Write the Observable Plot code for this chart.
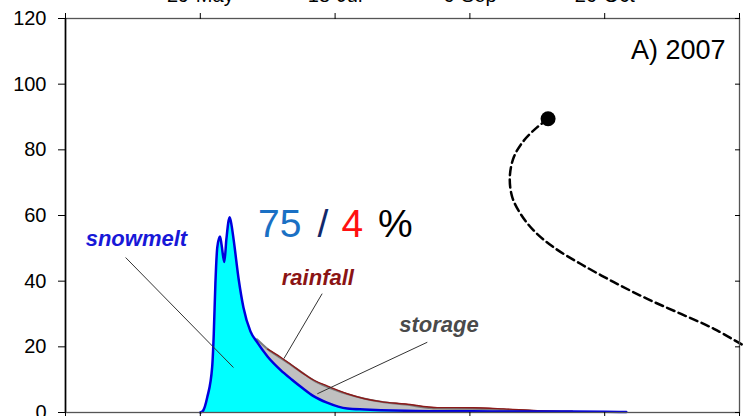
<!DOCTYPE html>
<html><head><meta charset="utf-8">
<script src="https://cdn.jsdelivr.net/npm/d3@7"></script>
<script src="https://cdn.jsdelivr.net/npm/@observablehq/plot@0.6"></script>
<style>
html,body{margin:0;padding:0;overflow:hidden;background:#fff;}
#chart svg{display:block;}
</style></head><body><div id="chart"></div>
<script>
// Day of year (2007)
const days      = [149, 150, 151.6, 153.4, 154, 154.6, 155.3, 156.3, 156.9, 157.9, 158.7, 159.9, 160.6, 161.4, 163.3, 165, 167.6, 170, 174, 178.7, 183, 187, 191, 196, 203.5, 210, 216, 225, 237, 250, 261.5, 274, 287, 299, 307];
const snowmelt  = [0, 0.5, 4.7, 13.8, 24, 39.3, 50.3, 53.6, 51, 45.8, 53, 59.5, 57, 52.4, 40.2, 32, 24.7, 21.5, 17, 13, 10, 7.4, 5, 3, 1.2, 0.9, 0.7, 0.5, 0.4, 0.35, 0.3, 0.3, 0.3, 0.25, 0.15];
const storage   = [0, 0, 0, 0, 0, 0, 0, 0, 0, 0, 0, 0, 0, 0, 0, 0, 0, 0.8, 2.3, 3.6, 4.3, 4.6, 4.8, 4.8, 4.4, 3.3, 2.6, 1.9, 0.8, 0.8, 0.55, 0.15, 0, 0, 0];
const rainfall  = [0, 0, 0, 0, 0, 0, 0, 0, 0, 0, 0, 0, 0, 0, 0, 0, 0, 0, 0, 0.3, 0.1, 0, 0.1, 0.3, 0.1, 0, 0, 0.2, 0.3, 0.3, 0.25, 0.1, 0, 0, 0];
const components = ["snowmelt", "storage", "rainfall"];

const tickDays   = [149, 199, 249, 299];
const tickLabels = ["29-May", "18-Jul", "6-Sep", "26-Oct"];
const frameDays  = [99, 349];
const yTicks     = [0, 20, 40, 60, 80, 100, 120];

// dashed curve
const curveDay   = [278.0, 274.0, 269.0, 265.3, 263.8, 264.7, 267.8, 272.7, 280.1, 290.0, 302.4, 314.8, 327.1, 339.5, 350.5];
const curveValue = [89.45, 86.9, 82.8, 77.8, 71.7, 65.6, 60.5, 55.4, 50.3, 45.3, 39.7, 34.6, 30.1, 25.5, 20.4];
const startDay = 278.0, startValue = 89.45;

// annotations
const labelText  = ["snowmelt", "rainfall", "storage"];
const labelDay   = [125.3, 192.6, 237.5];
const labelValue = [50.6, 38.7, 24.5];
const labelColor = ["#1818d8", "#8b1414", "#4a4a4a"];
const leaderDay1 = [121.3, 194.2, 233.2];
const leaderVal1 = [47.2, 36.2, 21.4];
const leaderDay2 = [161.3, 180.0, 192.4];
const leaderVal2 = [13.7, 16.4, 5.7];

const ratioParts  = ["75", "/", "4", "%"];
const ratioColors = ["#1a70c4", "#12286a", "#ff1010", "#000000"];
const ratioGaps   = [0, 16, 13.4, 14.6];
const ratioDay = 170.4, ratioValue = 53.3;
const panelTitle = "A) 2007";

const rows = days.flatMap((d, i) => [
  {day: d, comp: "snowmelt", v: snowmelt[i]},
  {day: d, comp: "storage", v: storage[i]},
  {day: d, comp: "rainfall", v: rainfall[i]}
]);
const idx = days.map((d, i) => i);
const idxL = labelText.map((d, i) => i);
const idxC = curveDay.map((d, i) => i);

const fmt = d => tickLabels[tickDays.indexOf(d)];
const rainDefined = i => rainfall[i] > 0 || rainfall[i - 1] > 0 || rainfall[i + 1] > 0;

const chart = Plot.plot({
  width: 743, height: 416,
  marginLeft: 65, marginRight: 4, marginTop: 18, marginBottom: 4,
  style: {fontFamily: "'Liberation Sans', Arial, sans-serif", color: "#000", background: "#fff"},
  x: {domain: [99, 349]},
  y: {domain: [0, 120]},
  color: {domain: components, range: ["#00ffff", "#c0c0c0", "#8b1a1a"]},
  marks: [
    Plot.areaY(rows, {x: "day", y: "v", fill: "comp", z: "comp", curve: "monotone-x"}),
    Plot.lineY(idx, {x: i => days[i], y: i => (storage[i] > 0 || storage[i - 1] > 0) ? snowmelt[i] + storage[i] : NaN, stroke: "#7c7c7c", strokeWidth: 2, curve: "monotone-x"}),
    Plot.lineY(idx, {x: i => days[i], y: i => rainDefined(i) ? snowmelt[i] + storage[i] + rainfall[i] : NaN, stroke: "#8b1a1a", strokeWidth: 1.4, curve: "monotone-x"}),
    Plot.lineY(idx, {x: i => days[i], y: i => snowmelt[i], stroke: "#0000dd", strokeWidth: 2.5, curve: "monotone-x"}),
    Plot.link(idxL, {x1: i => leaderDay1[i], y1: i => leaderVal1[i], x2: i => leaderDay2[i], y2: i => leaderVal2[i], stroke: "#333", strokeWidth: 1}),
    Plot.text(idxL, {x: i => labelDay[i], y: i => labelValue[i], text: i => labelText[i], fill: i => labelColor[i], fontSize: 22, fontWeight: "bold", fontStyle: "italic", textAnchor: "middle", lineAnchor: "bottom"}),
    Plot.text([ratioParts.join(" ")], {x: ratioDay, y: ratioValue, fontSize: 39, textAnchor: "start", lineAnchor: "bottom", className: "ratio-label"}),
    Plot.line(idxC, {x: i => curveDay[i], y: i => curveValue[i], curve: "catmull-rom", stroke: "#000", strokeWidth: 2.5, strokeDasharray: "8,4.5"}),
    Plot.dot([0], {x: startDay, y: startValue, r: 7.5, fill: "#000"}),
    Plot.text([panelTitle], {frameAnchor: "top-right", dx: -14, dy: 21, fontSize: 27, textAnchor: "end", lineAnchor: "top"}),
    Plot.frame({stroke: "#555", strokeWidth: 1.3}),
    Plot.ruleX([99], {stroke: "#000", strokeWidth: 1.6}),
    Plot.axisY(yTicks, {anchor: "left", tickSize: 7, tickPadding: 12, fontSize: 20, label: null}),
    Plot.axisY(yTicks, {anchor: "right", tickSize: -5, fill: "none", label: null}),
    Plot.axisX(tickDays, {anchor: "top", tickSize: 6, tickPadding: 11, tickFormat: fmt, fontSize: 20, label: null}),
    Plot.axisX(frameDays, {anchor: "top", tickSize: 6, fill: "none", label: null}),
    Plot.axisX(tickDays, {anchor: "bottom", tickSize: 6, tickPadding: 4, tickFormat: fmt, fontSize: 20, label: null}),
    Plot.axisX(frameDays, {anchor: "bottom", tickSize: 6, fill: "none", label: null})
  ]
});
document.getElementById("chart").appendChild(chart);

// colour the parts of the ratio label
const rt = chart.querySelector(".ratio-label text");
if (rt) {
  const ns = "http://www.w3.org/2000/svg";
  while (rt.firstChild) rt.removeChild(rt.firstChild);
  ratioParts.forEach((p, i) => {
    const ts = document.createElementNS(ns, "tspan");
    ts.textContent = p;
    ts.setAttribute("fill", ratioColors[i]);
    if (ratioGaps[i]) ts.setAttribute("dx", ratioGaps[i]);
    rt.appendChild(ts);
  });
}
</script></body></html>
